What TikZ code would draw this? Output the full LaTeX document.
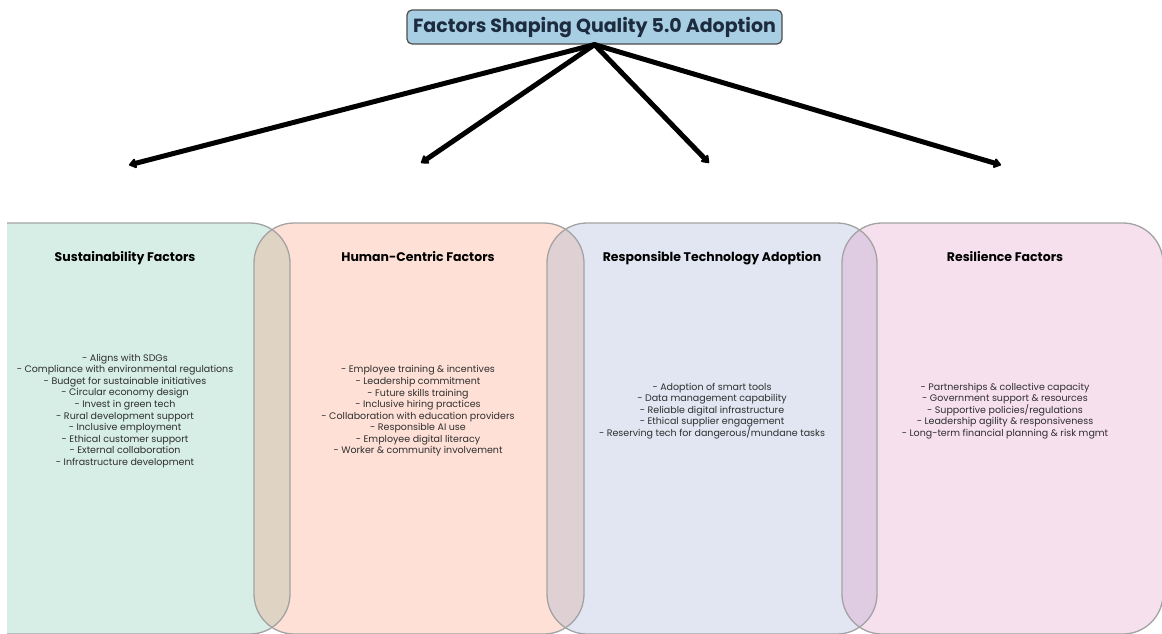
\documentclass[tikz,border=0pt]{standalone}
\usepackage{fontspec}
\setmainfont{Poppins}
\usetikzlibrary{arrows.meta}
\definecolor{cgreen}{HTML}{D6EEE6}
\definecolor{csalmon}{HTML}{FEE0D6}
\definecolor{cblue}{HTML}{E1E6F2}
\definecolor{cpink}{HTML}{F6E0EE}
\definecolor{covA}{HTML}{DFD3C3}
\definecolor{covB}{HTML}{DED0D3}
\definecolor{covC}{HTML}{DFCCE3}
\definecolor{cborder}{HTML}{A3A3A3}
\definecolor{ctitlefill}{HTML}{A7CEE3}
\definecolor{ctitletext}{HTML}{1C2B3D}
\definecolor{cbody}{HTML}{2E2E2E}
\newcommand{\qpath}[2]{(#1,223) rectangle (#2,634)}
\tikzset{
  qround/.style={rounded corners=40pt},
  qborder/.style={draw=cborder, line width=1.3pt, rounded corners=40pt},
  titlebox/.style={draw=black!70, line width=1.2pt, fill=ctitlefill, rounded corners=5pt,
    minimum width=375pt, minimum height=34pt, inner sep=0pt,
    font=\fontsize{19}{21}\selectfont\bfseries, text=ctitletext},
  headtext/.style={font=\fontsize{12.5}{14}\selectfont\bfseries, text=black, anchor=base},
  bodytext/.style={font=\fontsize{9.5}{11.6}\selectfont, text=cbody, align=center, inner sep=0pt},
  bigarrow/.style={line width=5pt, -{Triangle[length=8pt,width=11pt,round]}, line cap=round}
}
\begin{document}
\begin{tikzpicture}[x=1pt,y=-1pt]
\useasboundingbox (0,0) rectangle (1162,633);
\begin{scope}
\clip (7,0) rectangle (1162,633);
% fills
\fill[cgreen, qround] \qpath{-40}{290};
\fill[csalmon, qround] \qpath{254}{584};
\fill[cblue, qround] \qpath{547}{877};
\fill[cpink, qround] \qpath{842}{1163};
% overlaps
\begin{scope}
\clip[qround] \qpath{-40}{290};
\fill[covA, qround] \qpath{254}{584};
\end{scope}
\begin{scope}
\clip[qround] \qpath{254}{584};
\fill[covB, qround] \qpath{547}{877};
\end{scope}
\begin{scope}
\clip[qround] \qpath{547}{877};
\fill[covC, qround] \qpath{842}{1163};
\end{scope}
% borders
\draw[qborder] \qpath{-40}{290};
\draw[qborder] \qpath{254}{584};
\draw[qborder] \qpath{547}{877};
\draw[qborder] \qpath{842}{1163};
\end{scope}

% headers
\node[headtext] (h1) at (125,261.5) {Sustainability Factors};
\node[headtext] (h2) at (418,261.5) {Human-Centric Factors};
\node[headtext] (h3) at (712,261.5) {Responsible Technology Adoption};
\node[headtext] (h4) at (1005,261.5) {Resilience Factors};

% bodies
\node[bodytext] (b1) at (125,411) {- Aligns with SDGs\\- Compliance with environmental regulations\\- Budget for sustainable initiatives\\- Circular economy design\\- Invest in green tech\\- Rural development support\\- Inclusive employment\\- Ethical customer support\\- External collaboration\\- Infrastructure development};
\node[bodytext] (b2) at (418,411) {- Employee training \& incentives\\- Leadership commitment\\- Future skills training\\- Inclusive hiring practices\\- Collaboration with education providers\\- Responsible AI use\\- Employee digital literacy\\- Worker \& community involvement};
\node[bodytext] (b3) at (712,411) {- Adoption of smart tools\\- Data management capability\\- Reliable digital infrastructure\\- Ethical supplier engagement\\- Reserving tech for dangerous/mundane tasks};
\node[bodytext] (b4) at (1005,411) {- Partnerships \& collective capacity\\- Government support \& resources\\- Supportive policies/regulations\\- Leadership agility \& responsiveness\\- Long-term financial planning \& risk mgmt};

% title
\node[titlebox] (title) at (594.5,27) {Factors Shaping Quality 5.0 Adoption};

% arrow ends
\coordinate (e1) at (129,165);
\coordinate (e2) at (421,163);
\coordinate (e3) at (709,163);
\coordinate (e4) at (1001,165);
\draw[bigarrow] (title.south) -- (e1);
\draw[bigarrow] (title.south) -- (e2);
\draw[bigarrow] (title.south) -- (e3);
\draw[bigarrow] (title.south) -- (e4);
\end{tikzpicture}
\end{document}
